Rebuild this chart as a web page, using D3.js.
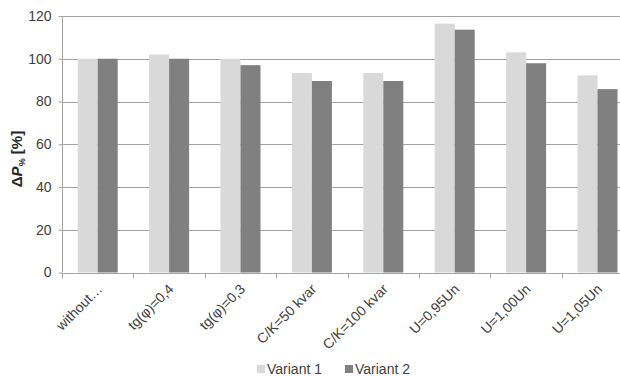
<!DOCTYPE html>
<html>
<head>
<meta charset="utf-8">
<script src="https://cdn.jsdelivr.net/npm/d3@7"></script>
<style>
  html, body { margin: 0; padding: 0; background: #fff; }
  svg { display: block; font-family: "Liberation Sans", Arial, sans-serif; }
</style>
</head>
<body>
<svg id="chart" width="620" height="376"></svg>
<script>
// Relative power losses per scenario, two variants
const categories = ["without…", "tg(φ)=0,4", "tg(φ)=0,3", "C/K=50 kvar", "C/K=100 kvar", "U=0,95Un", "U=1,00Un", "U=1,05Un"];
const seriesNames = ["Variant 1", "Variant 2"];
const variant1 = [100, 102, 100, 93.3, 93.3, 116.4, 103, 92.2];
const variant2 = [100, 100, 97, 89.6, 89.6, 113.6, 97.9, 85.8];
const yTicks = [0, 20, 40, 60, 80, 100, 120];
const colors = ["#d9d9d9", "#808080"];

const svg = d3.select("#chart");
const plotLeft = 62, plotTop = 16, plotBottom = 272.5, step = 71.4;
const plotRight = plotLeft + step * categories.length;

const x = d3.scaleBand().domain(categories).range([plotLeft, plotRight]).padding(0);
const xs = d3.scaleBand().domain(seriesNames).range([0, x.bandwidth()]).paddingInner(0).paddingOuter(0.785);
const y = d3.scaleLinear().domain([0, 120]).range([plotBottom, plotTop]);

const gridColor = "#a3a3a3";
const textColor = "#404040";

// horizontal gridlines
svg.append("g").selectAll("line")
  .data(yTicks.filter(d => d > 0))
  .join("line")
  .attr("x1", plotLeft).attr("x2", plotRight)
  .attr("y1", d => Math.round(y(d)) + 0.5).attr("y2", d => Math.round(y(d)) + 0.5)
  .attr("stroke", gridColor).attr("stroke-width", 1);

// bars
const rows = categories.map((c, i) => ({ cat: c, vals: [variant1[i], variant2[i]] }));
const groups = svg.append("g").selectAll("g")
  .data(rows)
  .join("g")
  .attr("transform", d => `translate(${x(d.cat)},0)`);
groups.selectAll("rect")
  .data(d => d.vals.map((v, k) => ({ name: seriesNames[k], v, k })))
  .join("rect")
  .attr("x", d => xs(d.name))
  .attr("width", xs.bandwidth())
  .attr("y", d => y(d.v))
  .attr("height", d => y(0) - y(d.v))
  .attr("fill", d => colors[d.k]);

// y axis
const yAxis = svg.append("g")
  .attr("transform", `translate(${plotLeft + 0.5},0)`)
  .call(d3.axisLeft(y).tickValues(yTicks).tickSize(4).tickPadding(7));
yAxis.select(".domain").attr("stroke", gridColor).attr("d", `M0,${plotTop}V${plotBottom}`);
yAxis.selectAll(".tick line").attr("stroke", gridColor);
yAxis.selectAll(".tick text").attr("fill", textColor).style("font-size", "14px");

// x axis with ticks at category boundaries
const xAxis = svg.append("g").attr("transform", `translate(0,${Math.round(plotBottom) + 0.5})`);
xAxis.append("line").attr("x1", plotLeft).attr("x2", plotRight).attr("stroke", gridColor);
xAxis.selectAll("line.tk")
  .data(d3.range(categories.length + 1))
  .join("line").attr("class", "tk")
  .attr("x1", i => Math.round(plotLeft + i * x.step()) + 0.5)
  .attr("x2", i => Math.round(plotLeft + i * x.step()) + 0.5)
  .attr("y1", 0).attr("y2", 5)
  .attr("stroke", gridColor);
xAxis.selectAll("text")
  .data(categories)
  .join("text")
  .attr("transform", d => `translate(${x(d) + x.bandwidth() / 2 + 2},${13}) rotate(-45)`)
  .attr("text-anchor", "end")
  .attr("dy", "0.35em")
  .attr("fill", textColor)
  .style("font-size", "14px")
  .text(d => d);

// y axis title
const yTitle = svg.append("text")
  .attr("transform", `translate(22,${159}) rotate(-90)`)
  .attr("text-anchor", "middle")
  .attr("fill", "#262626")
  .style("font-size", "15px")
  .style("font-weight", "bold");
yTitle.append("tspan").text("Δ");
yTitle.append("tspan").style("font-style", "italic").text("P");
yTitle.append("tspan").attr("dy", 3).style("font-size", "9px").text("%");
yTitle.append("tspan").attr("dy", -3).text(" [%]");

// legend
const legend = svg.append("g").attr("transform", "translate(257,365)");
const items = legend.selectAll("g")
  .data(seriesNames)
  .join("g")
  .attr("transform", (d, i) => `translate(${i * 88},0)`);
items.append("rect").attr("width", 8).attr("height", 8).attr("fill", (d, i) => colors[i]);
items.append("text")
  .attr("x", 10).attr("y", 4).attr("dy", "0.35em")
  .attr("fill", textColor)
  .style("font-size", "14px")
  .text(d => d);
</script>
</body>
</html>
